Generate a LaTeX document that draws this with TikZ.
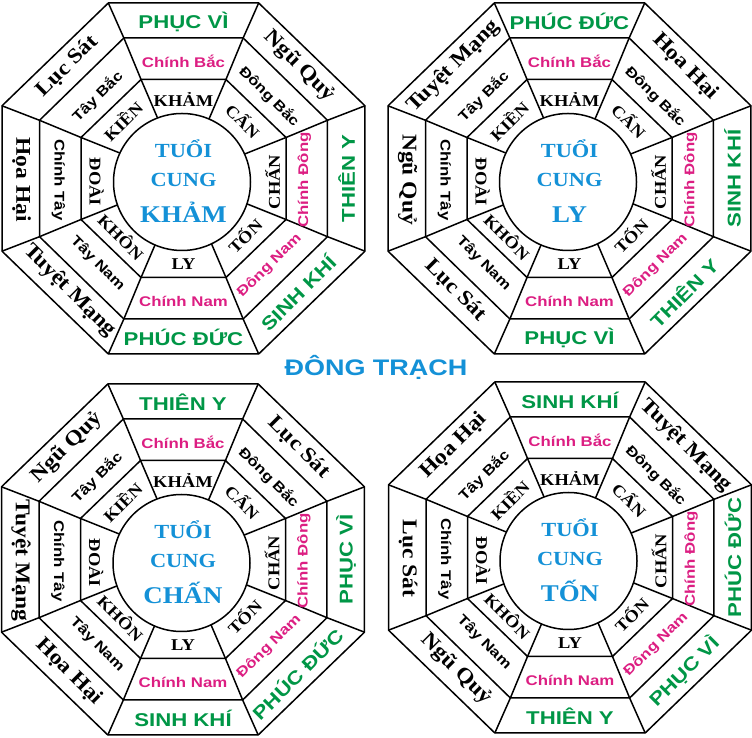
\documentclass[tikz,border=0pt]{standalone}
\usepackage{fontspec}
\newfontfamily\SansW{Liberation Sans}[FakeStretch=1.2]
\newfontfamily\SerifW{Liberation Serif}[FakeStretch=1.12]
\definecolor{fgreen}{RGB}{0,150,70}
\definecolor{fmag}{RGB}{220,30,130}
\definecolor{fblue}{RGB}{20,145,215}
\tikzset{
  ln/.style={line width=1.5pt, line join=miter},
  gtxt/.style={font=\SansW\bfseries\fontsize{18.5}{20}\selectfont, text=fgreen, inner sep=0pt},
  stxt/.style={font=\SerifW\bfseries\fontsize{21}{23}\selectfont, text=black, inner sep=0pt},
  dirm/.style={font=\SansW\bfseries\fontsize{14}{16}\selectfont, text=fmag, inner sep=0pt},
  dirk/.style={font=\SansW\bfseries\fontsize{14}{16}\selectfont, text=black, inner sep=0pt},
  trig/.style={font=\SerifW\bfseries\fontsize{16.5}{18}\selectfont, text=black, inner sep=0pt},
  ctr/.style={font=\SerifW\bfseries\fontsize{20}{22}\selectfont, text=fblue, anchor=base, inner sep=0pt},
  ctrbig/.style={font=\SerifW\bfseries\fontsize{24}{26}\selectfont, text=fblue, anchor=base, inner sep=0pt},
  titletxt/.style={font=\SansW\bfseries\fontsize{22.5}{24}\selectfont, text=fblue, anchor=base, inner sep=0pt}
}
\newcommand\octpath[2]{(22.5:#1 and #2) -- (67.5:#1 and #2) -- (112.5:#1 and #2) -- (157.5:#1 and #2) -- (202.5:#1 and #2) -- (247.5:#1 and #2) -- (292.5:#1 and #2) -- (337.5:#1 and #2) -- cycle}
\newcommand\baguabase[2]{%
  \foreach \a in {22.5,67.5,...,337.5}{
    \draw[ln] (0,0) -- (\a:110.95 and 107.16) -- (\a:155.86 and 152.08) -- (\a:196.45 and 189.96);
  }
  \draw[ln] \octpath{110.95}{107.16};
  \draw[ln] \octpath{155.86}{152.08};
  \draw[ln] \octpath{196.45}{189.96};
  \filldraw[ln, fill=white] (-1.5,-3.5) circle (68.5);
  % trigram ring
  \node[trig] (#1-t1) at (0,79) {KHẢM};
  \node[trig, rotate=-45] (#1-t2) at (60,58) {CẤN};
  \node[trig, rotate=90] (#1-t3) at (89,-3.5) {CHẤN};
  \node[trig, rotate=45] (#1-t4) at (61,-57) {TỐN};
  \node[trig] (#1-t5) at (0,-86) {LY};
  \node[trig, rotate=-45] (#1-t6) at (-62,-58) {KHÔN};
  \node[trig, rotate=-90] (#1-t7) at (-87,-3.5) {ĐOÀI};
  \node[trig, rotate=45] (#1-t8) at (-61,58) {KIỀN};
  % direction ring
  \node[dirm] (#1-d1) at (0,117) {Chính Bắc};
  \node[dirk, rotate=-45] (#1-d2) at (86,82) {Đông Bắc};
  \node[dirm, rotate=90] (#1-d3) at (121,-1.5) {Chính Đông};
  \node[dirm, rotate=45] (#1-d4) at (86,-87) {Đông Nam};
  \node[dirm] (#1-d5) at (0,-123) {Chính Nam};
  \node[dirk, rotate=-45] (#1-d6) at (-86,-85) {Tây Nam};
  \node[dirk, rotate=-90] (#1-d7) at (-125,-1.5) {Chính Tây};
  \node[dirk, rotate=45] (#1-d8) at (-86,82) {Tây Bắc};
  % centre
  \node[ctr] (#1-c1) at (0,20.5) {TUỔI};
  \node[ctr] (#1-c2) at (0,-8.5) {CUNG};
  \node[ctrbig] (#1-c3) at (0,-44.5) {#2};
}
\newcommand\outerring[9]{%
  \node[gtxt] (#1-o1) at (0,157) {#2};
  \node[stxt, rotate=-45] (#1-o2) at (116,112) {#3};
  \node[gtxt, rotate=90] (#1-o3) at (163,0) {#4};
  \node[gtxt, rotate=45] (#1-o4) at (114,-114) {#5};
  \node[gtxt] (#1-o5) at (0,-159) {#6};
  \node[stxt, rotate=-45] (#1-o6) at (-114,-112) {#7};
  \node[stxt, rotate=-90] (#1-o7) at (-162,-1) {#8};
  \node[stxt, rotate=45] (#1-o8) at (-116,112) {#9};
}
\begin{document}
\begin{tikzpicture}[x=1pt,y=1pt]
\useasboundingbox (0,0) rectangle (752,738);
\begin{scope}[shift={(183.5,559.5)}]
  \baguabase{kham}{KHẢM}
  \outerring{kham}{PHỤC VÌ}{Ngũ Quỷ}{THIÊN Y}{SINH KHÍ}{PHÚC ĐỨC}{Tuyệt Mạng}{Họa Hại}{Lục Sát}
\end{scope}
\begin{scope}[shift={(569.5,559.5)}]
  \baguabase{ly}{LY}
  \outerring{ly}{PHÚC ĐỨC}{Họa Hại}{SINH KHÍ}{THIÊN Y}{PHỤC VÌ}{Lục Sát}{Ngũ Quỷ}{Tuyệt Mạng}
\end{scope}
\begin{scope}[shift={(183,178.5)}]
  \baguabase{chan}{CHẤN}
  \outerring{chan}{THIÊN Y}{Lục Sát}{PHỤC VÌ}{PHÚC ĐỨC}{SINH KHÍ}{Họa Hại}{Tuyệt Mạng}{Ngũ Quỷ}
\end{scope}
\begin{scope}[shift={(570,180.5)}]
  \baguabase{ton}{TỐN}
  \outerring{ton}{SINH KHÍ}{Tuyệt Mạng}{PHÚC ĐỨC}{PHỤC VÌ}{THIÊN Y}{Ngũ Quỷ}{Lục Sát}{Họa Hại}
\end{scope}
\node[titletxt] (title) at (376,362) {ĐÔNG TRẠCH};
\end{tikzpicture}
\end{document}
